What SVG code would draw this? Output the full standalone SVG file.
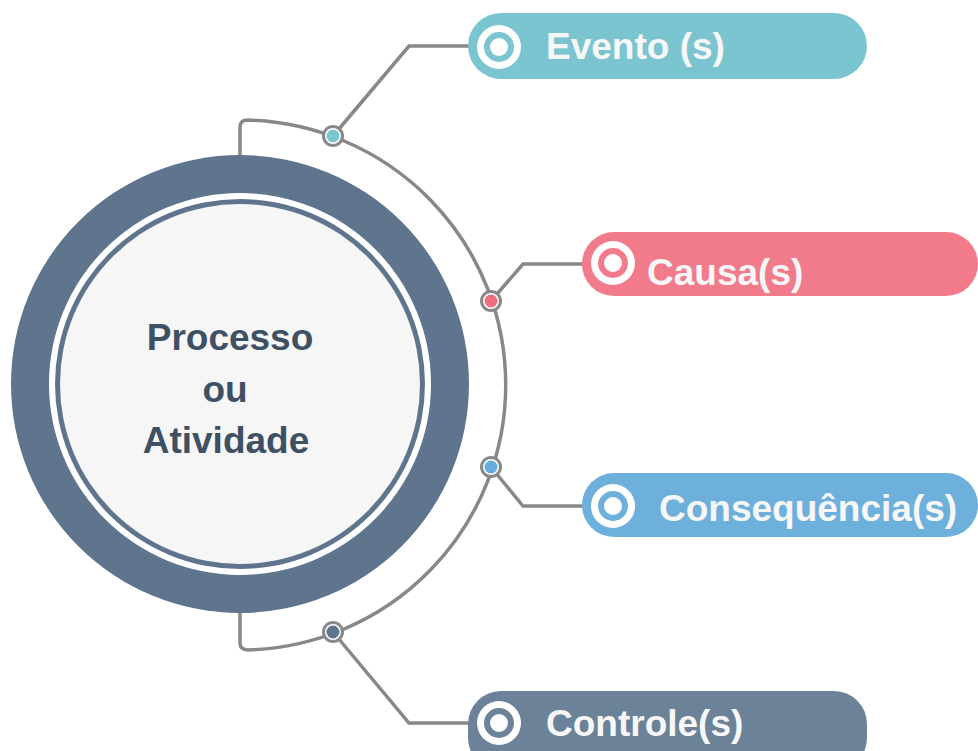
<svg xmlns="http://www.w3.org/2000/svg" width="978" height="751" viewBox="0 0 978 751">
<style>
.conn{fill:none;stroke:#888888;stroke-width:3.5;stroke-linejoin:miter;stroke-linecap:butt}
.dot{fill:#ffffff;stroke:#888888;stroke-width:3}
.lbl{font-family:"Liberation Sans",Arial,sans-serif;font-weight:bold;font-size:37px;fill:#f7f7f7}
.ctr{font-family:"Liberation Sans",Arial,sans-serif;font-weight:bold;font-size:37px;fill:#3d5064;text-anchor:middle}
.ring{fill:#ffffff}
</style>
<rect width="978" height="751" fill="#ffffff"/>
<g id="connectors">
<path class="conn" d="M240,156 L240,127 Q240,120.1 248,120.1 A265,265 0 0 1 248,649.9 Q240,649.9 240,643 L240,613"/>
<polyline class="conn" points="333,136 409,46 470,46"/>
<polyline class="conn" points="491,301 523,264 584,264"/>
<polyline class="conn" points="491,467 523,506 584,506"/>
<polyline class="conn" points="333,632 409,723 470,723"/>
</g>
<g id="center">
<circle cx="240" cy="384" r="229" fill="#5f758e"/>
<circle cx="240" cy="384" r="191" fill="#ffffff"/>
<circle cx="240" cy="384" r="185" fill="#5f758e"/>
<circle cx="240" cy="384" r="180" fill="#f6f6f6"/>
<text class="ctr" x="230" y="350">Processo</text>
<text class="ctr" x="225" y="402">ou</text>
<text class="ctr" x="226" y="453">Atividade</text>
</g>
<g id="dot-evento"><circle class="dot" cx="333" cy="136" r="9.5"/><circle cx="333" cy="136" r="6.5" fill="#7ac5cf"/></g>
<g id="dot-causa"><circle class="dot" cx="491" cy="301" r="9.5"/><circle cx="491" cy="301" r="6.5" fill="#f06c7f"/></g>
<g id="dot-consequencia"><circle class="dot" cx="491" cy="467" r="9.5"/><circle cx="491" cy="467" r="6.5" fill="#63acdd"/></g>
<g id="dot-controle"><circle class="dot" cx="333" cy="632" r="9.5"/><circle cx="333" cy="632" r="6.5" fill="#5f7590"/></g>
<g id="evento">
<rect x="468" y="13" width="399" height="66" rx="33" fill="#7ac5cf"/>
<circle class="ring" cx="499" cy="47" r="22"/>
<circle cx="499" cy="47" r="15" fill="#7ac5cf"/>
<circle class="ring" cx="499" cy="47" r="9"/>
<text class="lbl" x="546" y="59">Evento (s)</text>
</g>
<g id="causa">
<rect x="582" y="232" width="396" height="64" rx="32" fill="#f27b8b"/>
<circle class="ring" cx="613" cy="263" r="22"/>
<circle cx="613" cy="263" r="15" fill="#f27b8b"/>
<circle class="ring" cx="613" cy="263" r="9"/>
<text class="lbl" x="647" y="285">Causa(s)</text>
</g>
<g id="consequencia">
<rect x="582" y="473" width="396" height="64" rx="32" fill="#6db0dc"/>
<circle class="ring" cx="613" cy="506" r="22"/>
<circle cx="613" cy="506" r="15" fill="#6db0dc"/>
<circle class="ring" cx="613" cy="506" r="9"/>
<text class="lbl" x="659" y="521">Consequência(s)</text>
</g>
<g id="controle">
<rect x="468" y="691" width="399" height="80" rx="33" fill="#6b8299"/>
<circle class="ring" cx="499" cy="723" r="22"/>
<circle cx="499" cy="723" r="15" fill="#6b8299"/>
<circle class="ring" cx="499" cy="723" r="9"/>
<text class="lbl" x="546" y="736">Controle(s)</text>
</g>
</svg>
